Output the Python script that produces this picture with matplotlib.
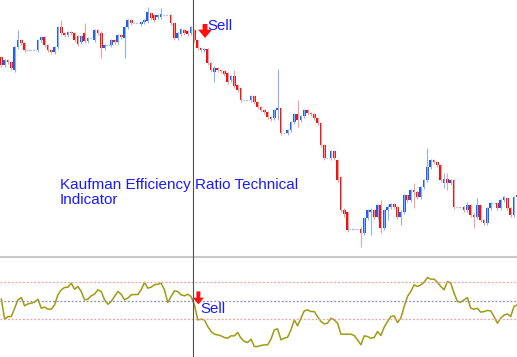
import numpy as np
import matplotlib
matplotlib.use("Agg")
import matplotlib.pyplot as plt
from matplotlib.lines import Line2D

# price bars (arbitrary price units), one per bar, left to right
opens = [203, 195, 200, 198, 190, 213, 220, 217, 210, 210, 210, 210, 220, 223, 215, 210,
         208, 213, 233, 227, 225, 228, 227, 224, 218, 227, 219, 222, 220, 230, 227, 212,
         215, 215, 220, 218, 225, 222, 233, 240, 237, 237, 236, 238, 239, 247, 245, 243,
         243, 245, 245, 245, 237, 222, 226, 230, 229, 227, 230, 220, 212, 210, 211, 197,
         188, 192, 190, 189, 187, 180, 184, 175, 172, 160, 160, 160, 164, 158, 153, 150,
         148, 143, 142, 150, 152, 127, 127, 130, 138, 146, 140, 144, 150, 147, 146, 142,
         137, 115, 102, 102, 109, 100, 83, 50, 48, 31, 31, 31, 31, 27, 42, 48,
         50, 43, 55, 32, 50, 53, 56, 53, 43, 48, 65, 60, 70, 68, 63, 73,
         80, 93, 100, 98, 95, 77, 81, 77, 80, 53, 53, 53, 50, 55, 45, 43,
         55, 40, 37, 52, 57, 57, 52, 60, 62, 52, 45, 63]
closes = [195, 200, 198, 192, 213, 220, 217, 210, 210, 210, 210, 220, 223, 215, 210, 208,
          213, 233, 227, 225, 228, 227, 220, 216, 224, 219, 222, 222, 230, 227, 212, 215,
          215, 220, 218, 225, 223, 233, 240, 237, 237, 237, 238, 240, 248, 242, 240, 245,
          246, 245, 245, 237, 222, 227, 231, 227, 226, 233, 220, 212, 210, 211, 197, 190,
          192, 190, 189, 186, 178, 184, 174, 170, 160, 160, 160, 164, 158, 153, 150, 148,
          143, 141, 150, 152, 127, 127, 130, 138, 146, 140, 144, 150, 147, 146, 142, 137,
          115, 102, 102, 109, 102, 80, 50, 46, 30, 31, 31, 31, 27, 42, 50, 50,
          43, 55, 32, 50, 53, 56, 53, 43, 48, 65, 60, 70, 68, 63, 73, 80,
          93, 100, 98, 95, 80, 81, 77, 80, 53, 53, 53, 50, 55, 45, 43, 55,
          40, 37, 52, 57, 57, 52, 60, 63, 52, 45, 63, 65]
# bars whose shadows reach well beyond the body: index -> (high, low)
long_wicks = {5: (230, 211), 18: (240, 225), 25: (237, 217), 30: (229, 202),
              37: (234, 202), 44: (253, 237), 48: (252, 241), 64: (194, 178),
              70: (190, 172), 83: (191, 140), 89: (160, 133), 103: (52, 43),
              108: (33, 13), 111: (52, 25), 114: (60, 27), 116: (55, 40),
              120: (50, 35), 124: (77, 52), 128: (112, 78), 133: (87, 72),
              134: (87, 70), 140: (58, 48), 142: (47, 32), 143: (62, 41),
              148: (68, 50)}

# efficiency ratio line, one value per bar
ratio = [0.024, -0.300, -0.257, -0.257, -0.122, 0.014, 0.051, -0.084, -0.051, -0.041,
         -0.024, 0.024, -0.122, -0.105, -0.138, -0.138, -0.068, 0.095, 0.176, 0.214,
         0.219, 0.284, 0.186, 0.230, 0.149, 0.014, 0.024, 0.078, 0.105, 0.176,
         0.149, 0.014, -0.057, -0.014, 0.068, 0.149, 0.105, 0.014, 0.041, 0.095,
         0.100, 0.100, 0.176, 0.295, 0.203, 0.219, 0.257, 0.268, 0.284, 0.176,
         -0.030, 0.068, 0.159, 0.149, 0.095, 0.078, 0.105, 0.068, -0.068, -0.311,
         -0.300, -0.311, -0.419, -0.500, -0.543, -0.554, -0.570, -0.597, -0.608, -0.570,
         -0.570, -0.516, -0.608, -0.662, -0.678, -0.624, -0.743, -0.743, -0.727, -0.716,
         -0.716, -0.624, -0.473, -0.457, -0.635, -0.608, -0.592, -0.473, -0.311, -0.408,
         -0.284, -0.165, -0.149, -0.176, -0.176, -0.257, -0.338, -0.376, -0.365, -0.284,
         -0.311, -0.365, -0.543, -0.543, -0.543, -0.543, -0.565, -0.635, -0.716, -0.570,
         -0.581, -0.608, -0.597, -0.500, -0.565, -0.430, -0.338, -0.257, -0.246, -0.354,
         -0.284, -0.095, 0.068, 0.149, 0.257, 0.230, 0.257, 0.300, 0.376, 0.349,
         0.349, 0.300, 0.230, 0.176, 0.311, 0.284, 0.122, -0.014, -0.024, 0.014,
         0.051, -0.122, -0.138, -0.122, -0.186, -0.176, -0.159, -0.165, -0.257, -0.365,
         -0.284, -0.235, -0.214, -0.257, -0.095, -0.068]
levels = [0.3, 0.0, -0.3]
sell_bar = 57.5

BLUE = "#1c5cf0"
RED = "#f01010"
TXT = "#1a1aff"

fig = plt.figure(figsize=(5.17, 3.57), dpi=100)
ax = fig.add_axes([0, 102 / 357, 1, 255 / 357])
ax2 = fig.add_axes([0, 0, 1, 99 / 357])

o = np.array(opens, float)
c = np.array(closes, float)
x = np.arange(len(o))
hi = np.maximum(o, c) + 1.5
lo = np.minimum(o, c) - 1.5
for k, (h, l) in long_wicks.items():
    hi[k] = h
    lo[k] = l

up = c > o
dn = c < o
flat = c == o
ax.vlines(x[up], lo[up], hi[up], color="#90b0f0", lw=0.8)
ax.vlines(x[dn], lo[dn], hi[dn], color="#f0a0a0", lw=0.8)
ax.bar(x[up], (c - o)[up], bottom=o[up], width=0.82, color=BLUE, lw=0)
ax.bar(x[dn], (c - o)[dn], bottom=o[dn], width=0.82, color=RED, lw=0)
ax.hlines(c[flat], x[flat] - 0.5, x[flat] + 0.5, color="#8fb0ea", lw=0.9, linestyles=(0, (1, 1)))

ax.set_xlim(-0.4, 154.9)
ax.set_ylim(5, 260)
ax.axis("off")

ax.annotate("", xy=(61.2, 222), xytext=(61.2, 236),
            arrowprops=dict(arrowstyle="simple,head_length=0.6,head_width=1.0,tail_width=0.35",
                            color="#ff1010", lw=0, shrinkA=0, shrinkB=0, mutation_scale=10))
ax.text(61.8, 230, "Sell", color=TXT, fontsize=10.8, family="Liberation Sans", va="baseline")
ax.text(17.6, 56, "Kaufman Efficiency Ratio Technical\nIndicator", color=TXT, fontsize=11,
        family="Liberation Sans", va="baseline", linespacing=1.08)

# indicator window
ax2.plot(np.arange(len(ratio)), ratio, color="#9c9c12", lw=1.1)
ax2.axhline(levels[0], color="#f4a0a0", lw=0.9, ls=(0, (1.5, 1.5)))
ax2.axhline(levels[2], color="#f4a0a0", lw=0.9, ls=(0, (1.5, 1.5)))
ax2.axhline(levels[1], color="#8c8cb0", lw=0.9, ls=(0, (1.5, 1.5)))
ax2.set_xlim(-0.4, 154.9)
ax2.set_ylim(-0.913, 0.692)
ax2.axis("off")
ax2.annotate("", xy=(59.2, -0.06), xytext=(59.2, 0.15),
             arrowprops=dict(arrowstyle="simple,head_length=0.6,head_width=1.0,tail_width=0.35",
                             color="#ff1010", lw=0, shrinkA=0, shrinkB=0, mutation_scale=8))
ax2.text(59.9, -0.205, "Sell", color=TXT, fontsize=10.8, family="Liberation Sans", va="baseline")

# separator between windows and the vertical marker line
fig.add_artist(Line2D([0, 1], [1 - 256.5 / 357] * 2, color="#c8c8c8", lw=1.5))
xf = (sell_bar + 0.4) / (154.9 + 0.4)
fig.add_artist(Line2D([xf, xf], [0, 1], color="#505050", lw=0.8))

fig.savefig("out.png", dpi=100)
